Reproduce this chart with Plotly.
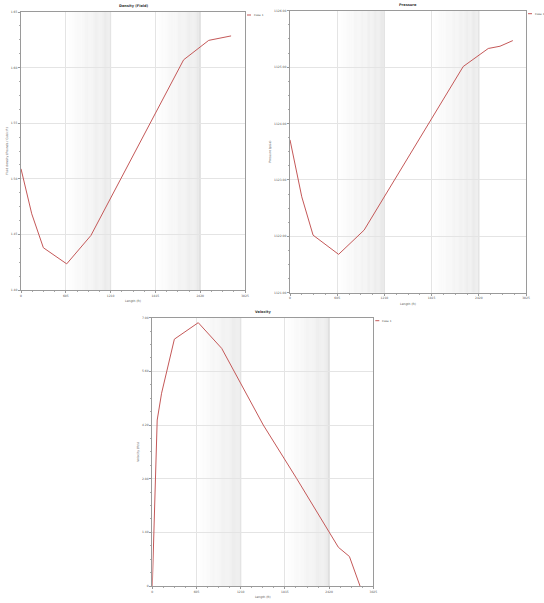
import plotly.graph_objects as go

W, H = 544, 603

# ---- data ----
length_ticks = [0, 605, 1210, 1815, 2420, 3025]
length_labels = ["0", "605", "1210", "1815", "2420", "3025"]

density_len = [0, 145, 302, 617, 944, 2196, 2535, 2837]
density_val = [1.509, 1.4685, 1.438, 1.4235, 1.449, 1.607, 1.6245, 1.6285]
density_ticks = [1.40, 1.45, 1.50, 1.55, 1.60, 1.65]

pressure_len = [0, 151, 296, 623, 950, 2220, 2541, 2692, 2856]
pressure_val = [1123.71, 1122.70, 1122.02, 1121.68, 1122.11, 1125.01, 1125.33, 1125.37, 1125.47]
pressure_ticks = [1121, 1122, 1123, 1124, 1125, 1126]

velocity_len = [0, 32, 67, 127, 302, 629, 950, 1519, 1977, 2547, 2698, 2843]
velocity_val = [0, 2.32, 4.33, 5.03, 6.44, 6.87, 6.20, 4.20, 2.80, 1.01, 0.77, 0.0]
velocity_ticks = [0, 1.4, 2.8, 4.2, 5.6, 7.0]
velocity_labels = ["0", "1.40", "2.80", "4.20", "5.60", "7.00"]

titles = ["Density (Field)", "Pressure", "Velocity"]
ytitles = ["Fluid density (Pounds / Cubic ft)", "Pressure (psia)", "Velocity (ft/s)"]
xtitle = "Length (ft)"
series_name = "Case 1"

LINE = "#c45858"
FONT = "DejaVu Sans"

# plot-area boxes in pixels (left, right, top, bottom)
boxes = [(21, 245, 12, 290), (290, 526, 10.7, 292.7), (152.3, 373.3, 317.7, 586)]

def dom(b):
    l, r, t, bt = b
    return [l / W, r / W], [1 - bt / H, 1 - t / H]

fig = go.Figure()

series = [(density_len, density_val), (pressure_len, pressure_val), (velocity_len, velocity_val)]
yticks = [(density_ticks, [f"{v:.2f}" for v in density_ticks]),
          (pressure_ticks, [f"{v:.2f}" for v in pressure_ticks]),
          (velocity_ticks, velocity_labels)]

shapes = []
annotations = []
layout = dict(width=W, height=H, margin=dict(l=0, r=0, t=0, b=0, autoexpand=False),
              paper_bgcolor="white", plot_bgcolor="white", showlegend=False,
              font=dict(family=FONT, size=3, color="#555"))

for i, (xs, ys) in enumerate(series):
    sfx = "" if i == 0 else str(i + 1)
    xa, ya = "x" + sfx, "y" + sfx
    fig.add_trace(go.Scatter(x=xs, y=ys, mode="lines", name=series_name,
                             line=dict(color=LINE, width=1), xaxis=xa, yaxis=ya))
    xd, yd = dom(boxes[i])
    tv, tt = yticks[i]
    layout["xaxis" + sfx] = dict(
        domain=xd, anchor=ya, range=[length_ticks[0], length_ticks[-1]], automargin=False,
        tickvals=length_ticks, ticktext=length_labels, ticks="outside", ticklen=2,
        tickcolor="#999", tickfont=dict(size=3, color="#555"),
        showgrid=True, gridcolor="#e4e4e4", gridwidth=0.6,
        showline=True, linecolor="#9a9a9a", linewidth=1, mirror=True, zeroline=False,
        minor=dict(dtick=(length_ticks[1] - length_ticks[0]) / 4, ticks="outside",
                   ticklen=1.2, tickcolor="#aaa", showgrid=False),
        title=dict(text=xtitle, font=dict(size=3, color="#555"), standoff=3))
    layout["yaxis" + sfx] = dict(
        domain=yd, anchor=xa, range=[tv[0], tv[-1]], tickvals=tv, ticktext=tt, automargin=False,
        ticks="outside", ticklen=2, tickcolor="#999", tickfont=dict(size=3, color="#555"),
        showgrid=True, gridcolor="#e4e4e4", gridwidth=0.6,
        showline=True, linecolor="#9a9a9a", linewidth=1, mirror=True, zeroline=False,
        minor=dict(dtick=(tv[1] - tv[0]) / 4, ticks="outside", ticklen=1.2,
                   tickcolor="#aaa", showgrid=False),
        title=dict(text=ytitles[i], font=dict(size=3, color="#555"), standoff=2))

    # gradient bands in 2nd and 4th tick intervals
    steps = 40
    for k in (1, 3):
        a, b = length_ticks[k], length_ticks[k + 1]
        for s in range(steps):
            f = (s + 0.5) / steps
            c = int(round(255 - f * 22))
            shapes.append(dict(type="rect", xref=xa, yref=ya + " domain",
                               x0=a + (b - a) * s / steps, x1=a + (b - a) * (s + 1) / steps,
                               y0=0, y1=1, line=dict(width=0),
                               fillcolor=f"rgb({c},{c},{c})", layer="below"))
        shapes.append(dict(type="line", xref=xa, yref=ya + " domain", x0=b, x1=b, y0=0, y1=1,
                           line=dict(color="#cfcfcf", width=1), layer="below"))

    # title
    annotations.append(dict(text=f"<b>{titles[i]}</b>", xref="paper", yref="paper",
                            x=sum(xd) / 2, y=yd[1] + 2 / H, xanchor="center", yanchor="bottom",
                            showarrow=False, font=dict(size=3.5, color="#333")))
    # legend
    lx = xd[1] + 2 / W
    ly = yd[1] - 3 / H
    shapes.append(dict(type="line", xref="paper", yref="paper", x0=lx, x1=lx + 4 / W,
                       y0=ly, y1=ly, line=dict(color=LINE, width=1)))
    annotations.append(dict(text=series_name, xref="paper", yref="paper", x=lx + 4.5 / W, y=ly,
                            xanchor="left", yanchor="middle", showarrow=False,
                            font=dict(size=2.8, color="#555")))

layout["shapes"] = shapes
layout["annotations"] = annotations
fig.update_layout(**layout)
fig.write_html("out.html", config={"displayModeBar": False},
               post_script="document.body.style.margin='0';document.body.style.overflow='hidden';")
